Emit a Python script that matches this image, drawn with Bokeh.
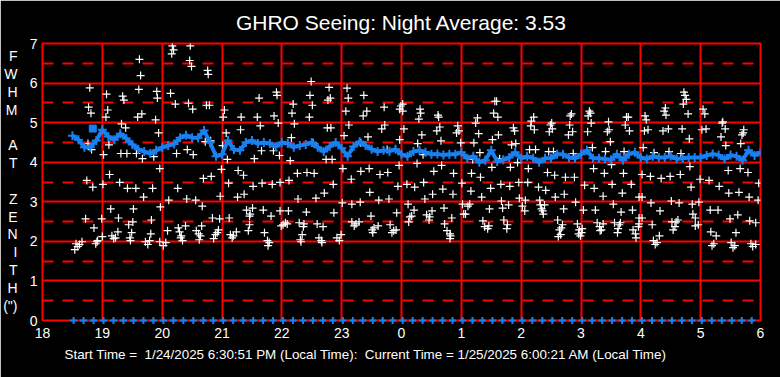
import numpy as np
from bokeh.plotting import figure
from bokeh.models import FixedTicker, Grid, Title, LinearAxis
from bokeh.embed import file_html
from bokeh.resources import INLINE

# ---------------- data ----------------
title_text = "GHRO Seeing: Night Average: 3.53"
footer_text = "Start Time =\u00a0 1/24/2025 6:30:51 PM (Local Time):\u00a0 Current Time = 1/25/2025 6:00:21 AM (Local Time)"
ylabel_letters = ["F", "W", "H", "M", "", "A", "T", "", "Z", "E", "N", "I", "T", "H", "(\")"]

hour_ticks = [18, 19, 20, 21, 22, 23, 24, 25, 26, 27, 28, 29, 30]
hour_labels = ["18", "19", "20", "21", "22", "23", "0", "1", "2", "3", "4", "5", "6"]
fwhm_ticks = [0, 1, 2, 3, 4, 5, 6, 7]
fwhm_half_ticks = [0.5, 1.5, 2.5, 3.5, 4.5, 5.5, 6.5]

# individual measurements (hours since midnight of 1/24, FWHM arcsec)
white_hour = [
    19.62, 19.64, 18.79, 19.61, 19.07, 19.34, 19.36, 19.91, 19.92, 18.77, 18.81, 19.09, 19.06, 19.66, 19.59,
    19.89, 19.32, 19.39, 19.94, 18.76, 18.82, 19.11, 19.02, 19.31, 19.41, 19.57, 19.67, 19.86, 19.96, 19.12,
    18.74, 18.84, 19.01, 19.29, 19.42, 19.56, 19.84, 19.69, 19.14, 19.52, 19.97, 18.72, 18.99, 19.27, 19.51,
    19.44, 19.82, 18.86, 19.81, 19.26, 19.49, 19.00, 18.92, 19.16, 19.19, 19.22, 19.46, 19.47, 19.72, 19.76,
    19.79, 19.96, 18.56, 18.62, 18.66, 18.59, 18.54, 18.89, 18.91,
    20.17, 20.19, 20.16, 20.47, 20.46, 20.49, 20.76, 20.77, 20.14, 20.22, 20.44, 20.51, 20.74, 20.79, 21.04,
    21.02, 21.32, 21.59, 21.62, 21.91, 21.92, 21.87, 21.94, 21.64, 21.31, 21.07, 20.72, 20.81, 21.01, 20.42,
    20.24, 20.52, 21.09, 21.54, 21.66, 21.86, 21.96, 20.99, 20.69, 20.82, 21.27, 21.36, 21.11, 21.52, 21.67,
    21.84, 21.97, 20.26, 20.97, 21.26, 21.37, 20.11, 20.41, 20.56, 20.67, 20.84, 20.96, 21.12, 21.41, 21.51,
    21.47, 21.46, 21.69, 21.82, 21.97, 20.09, 20.27, 20.29, 20.32, 20.34, 20.31, 20.39, 20.66, 20.57, 20.61,
    20.64, 20.62, 20.86, 20.89, 20.92, 20.94, 21.14, 21.17, 21.19, 21.24, 21.46, 21.44, 21.71, 21.76, 21.79,
    21.77, 21.99, 20.06, 20.02,
    22.49, 22.79, 23.09, 22.47, 22.81, 22.77, 23.11, 23.37, 22.19, 22.51, 23.71, 23.99, 23.97, 22.17, 22.46,
    23.07, 23.42, 23.36, 22.21, 22.76, 22.82, 23.12, 23.67, 23.72, 23.04, 23.44, 23.97, 22.16, 22.52, 23.32,
    23.76, 22.14, 22.74, 22.84, 23.02, 23.32, 23.46, 23.64, 23.77, 23.96, 22.26, 22.42, 22.54, 22.12, 22.86,
    23.16, 23.94, 22.71, 22.27, 22.57, 23.01, 23.17, 23.31, 23.47, 23.62, 23.79, 22.11, 22.41, 22.87, 23.49,
    23.92, 22.29, 22.37, 22.36, 22.34, 22.31, 22.32, 22.59, 22.69, 22.06, 22.02, 22.09, 22.62, 22.66, 22.67,
    22.92, 22.96, 22.99, 23.17, 23.24, 23.29, 23.21, 23.51, 23.54, 23.61, 23.52, 23.81, 23.84, 23.87, 23.91,
    24.02, 24.02, 24.31, 24.32, 24.29, 24.61, 24.62, 25.56, 25.59, 25.54, 25.61, 25.27, 25.24, 24.04, 24.34,
    24.64, 24.59, 24.94, 24.96, 24.92, 25.29, 25.62, 25.87, 25.89, 24.27, 24.66, 24.99, 25.21, 25.52, 25.84,
    25.91, 24.36, 25.31, 25.19, 25.64, 24.26, 24.67, 25.51, 25.82, 25.94, 24.54, 24.87, 25.17, 25.32, 24.09,
    24.22, 24.37, 24.69, 25.01, 25.16, 25.49, 25.66, 25.81, 25.96, 24.52, 24.86, 24.39, 25.34, 25.67, 25.97,
    24.11, 24.21, 24.71, 25.02, 25.11, 25.14, 25.47, 25.69, 25.79, 24.51, 24.84, 25.04, 25.07, 24.14, 24.17,
    24.12, 24.42, 24.47, 24.46, 24.72, 24.76, 24.81, 24.82, 24.81, 25.36, 25.39, 25.44, 25.46, 25.71, 25.77,
    25.76,
    26.21, 26.17, 26.16, 26.84, 26.82, 27.14, 27.16, 27.12, 27.76, 27.79, 27.46, 27.74, 27.17, 26.51, 26.49,
    26.81, 26.22, 26.47, 26.52, 26.86, 26.79, 27.11, 27.47, 27.44, 27.81, 27.49, 26.14, 26.24, 26.46, 26.54,
    26.87, 27.19, 27.41, 27.72, 27.51, 26.12, 27.21, 26.44, 26.56, 26.74, 26.89, 27.39, 27.71, 26.11, 27.06,
    27.52, 27.84, 26.29, 26.41, 27.22, 26.72, 26.57, 27.37, 27.69, 26.07, 26.31, 26.91, 27.54, 27.97, 26.32,
    26.39, 26.34, 26.36, 26.37, 26.02, 26.06, 26.71, 27.04, 27.24, 27.67, 27.86, 27.97, 26.61, 26.69, 26.67,
    26.64, 26.66, 26.62, 26.94, 26.97, 26.96, 26.99, 27.01, 27.02, 27.27, 27.31, 27.32, 27.34, 27.37, 27.56,
    27.64, 27.62, 27.61, 27.66, 27.87, 27.91, 27.92, 27.96, 27.97,
    28.72, 28.74, 28.76, 28.71, 28.41, 28.39, 28.42, 28.07, 28.09, 29.04, 29.07, 28.79, 29.37, 29.36, 29.72,
    29.71, 29.69, 28.06, 28.12, 28.37, 28.46, 28.69, 29.02, 29.09, 29.41, 29.34, 28.81, 29.67, 29.42, 28.04,
    28.22, 28.47, 28.67, 28.82, 29.46, 29.66, 29.79, 28.02, 28.16, 28.34, 28.49, 28.66, 28.99, 29.14, 28.84,
    29.31, 29.97, 29.47, 29.64, 29.81, 28.02, 29.96, 28.17, 28.51, 28.64, 28.86, 28.97, 29.16, 29.29, 28.32,
    28.87, 28.91, 29.62, 29.49, 29.82, 29.92, 28.02, 28.19, 28.52, 28.59, 28.62, 28.57, 28.54, 28.91, 28.96,
    29.17, 29.26, 29.59, 28.31, 28.21, 28.24, 28.27, 29.19, 29.22, 29.51, 29.54, 29.57, 29.84, 29.87, 29.92,
]
white_fwhm = [
    6.60, 6.19, 5.88, 5.84, 5.72, 5.67, 5.57, 5.79, 5.62, 5.39, 5.24, 5.32, 5.14, 5.22, 5.14,
    5.07, 4.97, 4.87, 4.74, 4.47, 4.32, 4.44, 4.19, 4.22, 4.22, 4.22, 4.09, 4.14, 3.84, 3.69,
    3.54, 3.37, 3.44, 3.49, 3.34, 3.34, 3.34, 3.12, 2.82, 2.82, 2.87, 2.57, 2.57, 2.59, 2.49,
    2.42, 2.54, 2.34, 2.19, 2.24, 2.22, 2.12, 2.02, 2.14, 2.07, 2.09, 2.09, 2.02, 1.99, 1.92,
    2.02, 1.99, 1.94, 1.92, 1.99, 1.87, 1.79, 1.94, 1.99,
    6.94, 6.84, 6.74, 6.94, 6.57, 6.42, 6.32, 6.22, 5.74, 5.47, 5.49, 5.34, 5.44, 5.44, 5.32,
    5.14, 5.14, 5.14, 5.62, 5.77, 5.69, 5.17, 4.99, 4.92, 4.82, 4.74, 4.52, 4.54, 4.42, 4.32,
    4.22, 4.19, 4.07, 4.09, 4.29, 4.29, 4.17, 3.82, 3.59, 3.64, 3.79, 3.67, 3.47, 3.39, 3.47,
    3.44, 3.49, 3.34, 3.14, 3.12, 3.19, 3.04, 3.07, 3.04, 2.89, 2.59, 2.57, 2.59, 2.79, 2.84,
    2.69, 2.64, 2.79, 2.64, 2.77, 2.27, 2.34, 2.24, 2.14, 2.02, 2.09, 2.39, 2.39, 2.27, 2.19,
    2.14, 2.04, 2.07, 2.17, 2.22, 2.29, 2.17, 2.09, 2.14, 2.24, 2.42, 2.27, 2.22, 2.02, 1.97,
    1.89, 2.39, 1.97, 1.89,
    6.04, 5.89, 5.87, 5.69, 5.62, 5.57, 5.62, 5.69, 5.47, 5.44, 5.39, 5.42, 5.34, 5.24, 5.14,
    5.29, 5.29, 5.17, 4.97, 4.87, 4.87, 4.94, 4.84, 4.94, 4.67, 4.64, 4.57, 4.62, 4.49, 4.49,
    4.32, 4.04, 4.07, 4.07, 3.84, 3.77, 3.84, 3.69, 3.74, 3.92, 3.72, 3.74, 3.72, 3.54, 3.44,
    3.57, 3.39, 3.22, 3.07, 3.09, 2.97, 2.94, 2.99, 3.24, 3.04, 3.07, 2.77, 2.74, 2.72, 2.64,
    2.72, 2.47, 2.44, 2.37, 2.17, 2.04, 1.99, 2.44, 2.37, 2.47, 2.42, 2.44, 2.09, 2.02, 1.97,
    2.09, 2.02, 2.17, 2.49, 2.44, 2.49, 2.39, 2.29, 2.34, 2.39, 2.22, 2.42, 2.22, 2.27, 2.29,
    5.47, 5.29, 5.34, 5.24, 5.09, 5.19, 5.14, 5.54, 5.54, 5.24, 5.14, 5.12, 4.99, 4.84, 4.69,
    4.89, 4.79, 4.92, 4.79, 4.74, 4.72, 4.69, 4.87, 4.79, 4.47, 4.54, 4.49, 4.49, 4.57, 4.44,
    4.47, 4.19, 4.24, 4.07, 4.09, 3.97, 3.92, 3.87, 3.87, 3.99, 3.77, 3.72, 3.72, 3.62, 3.44,
    3.37, 3.49, 3.32, 3.47, 3.27, 3.34, 3.44, 3.39, 3.49, 3.19, 3.19, 3.07, 3.12, 3.02, 3.09,
    2.94, 2.79, 2.84, 2.94, 2.89, 2.94, 2.82, 2.84, 2.92, 2.77, 2.59, 2.69, 2.69, 2.62, 2.64,
    2.49, 2.67, 2.62, 2.54, 2.44, 2.27, 2.19, 2.14, 2.07, 2.52, 2.37, 2.32, 2.39, 2.54, 2.42,
    2.32,
    5.14, 5.04, 4.92, 5.22, 5.17, 5.29, 5.24, 5.17, 5.14, 5.14, 5.02, 4.94, 4.99, 4.99, 4.94,
    4.94, 4.82, 4.77, 4.84, 4.77, 4.69, 4.77, 4.82, 4.77, 4.79, 4.52, 4.32, 4.32, 4.27, 4.27,
    4.22, 4.37, 4.27, 4.27, 3.94, 3.84, 3.84, 3.74, 3.67, 3.62, 3.62, 3.72, 3.72, 3.49, 3.42,
    3.44, 3.44, 3.37, 3.29, 3.34, 3.19, 3.12, 3.14, 3.22, 3.04, 3.04, 2.99, 2.94, 3.12, 2.92,
    2.92, 2.82, 2.77, 2.69, 2.89, 2.77, 2.82, 2.79, 2.79, 2.74, 2.79, 2.59, 2.54, 2.42, 2.34,
    2.29, 2.17, 2.12, 2.44, 2.29, 2.19, 2.14, 2.22, 2.32, 2.47, 2.37, 2.27, 2.29, 2.44, 2.47,
    2.42, 2.32, 2.22, 2.47, 2.29, 2.19, 2.09, 2.37, 2.44,
    5.77, 5.69, 5.59, 5.47, 5.37, 5.29, 5.19, 5.17, 5.07, 5.34, 5.22, 5.22, 5.02, 4.99, 4.82,
    4.74, 4.69, 4.79, 4.82, 4.79, 4.84, 4.84, 4.82, 4.84, 4.84, 4.64, 4.59, 4.47, 4.42, 4.37,
    4.24, 4.27, 4.22, 3.89, 3.79, 3.84, 3.74, 3.69, 3.64, 3.59, 3.64, 3.69, 3.57, 3.54, 3.37,
    3.39, 3.47, 3.22, 3.24, 3.12, 3.12, 3.04, 2.97, 3.02, 2.97, 2.94, 2.99, 2.79, 2.79, 2.77,
    2.69, 2.59, 2.67, 2.57, 2.52, 2.47, 2.59, 2.42, 2.49, 2.49, 2.54, 2.37, 2.29, 2.39, 2.42,
    2.24, 2.14, 2.22, 2.14, 2.02, 1.92, 1.97, 1.89, 1.94, 1.97, 1.84, 1.89, 1.94, 1.87, 1.92,
]

# running average trace, one value every 0.1 h from 18.5 to 30.0
trend_start = 18.5
trend_step = 0.1
trend_fwhm = [
    4.67, 4.57, 4.38, 4.38, 4.55, 4.82, 4.65, 4.57, 4.72, 4.60, 4.45, 4.33, 4.27, 4.22, 4.30,
    4.37, 4.42, 4.46, 4.62, 4.68, 4.62, 4.62, 4.80, 4.50, 4.15, 4.20, 4.55, 4.32, 4.30, 4.50,
    4.55, 4.47, 4.50, 4.47, 4.40,
    4.50, 4.47, 4.38, 4.42, 4.45, 4.50, 4.38, 4.27, 4.40, 4.50, 4.35, 4.15, 4.40, 4.52, 4.42,
    4.33, 4.27, 4.30, 4.28, 4.33,
    4.20, 4.15, 4.27, 4.30, 4.25, 4.20, 4.21, 4.18, 4.20, 4.20, 4.25, 4.10, 4.15, 4.00, 4.05,
    4.30, 4.02, 4.06, 4.12, 4.25,
    4.10, 4.15, 4.10, 4.00, 4.10, 4.10, 4.20, 4.20, 4.12, 4.10, 4.20, 4.30, 4.10, 4.10, 4.08,
    4.06, 4.20, 4.05, 4.20, 4.25,
    4.12, 4.08, 4.15, 4.12, 4.12, 4.16, 4.08, 4.10, 4.12, 4.12, 4.12, 4.17, 4.21, 4.18, 4.08,
    4.18, 4.15, 4.05, 4.30, 4.17, 4.25,
]
trend_outlier_hour = [18.84]
trend_outlier_fwhm = [4.85]

# sampling markers along the bottom (every 10 minutes from 6:31 PM)
sample_start = 18.52
sample_step = 1.0 / 6.0
sample_end = 30.0

# ---------------- styling ----------------
FONT = "Liberation Sans"
RED = "#ff0000"
BLUE = "#1a80f0"

p = figure(width=780, height=377, x_range=(18, 30), y_range=(0, 7),
           output_backend="svg", toolbar_location=None,
           background_fill_color="black", border_fill_color="black",
           min_border_left=40, min_border_right=20, min_border_top=43, min_border_bottom=57)
p.outline_line_color = RED
p.outline_line_width = 2

p.title.text = title_text
p.title.text_color = "white"
p.title.text_font = FONT
p.title.text_font_size = "21px"
p.title.text_font_style = "normal"
p.title.align = "center"
p.title.vertical_align = "top"
p.title.standoff = 16
p.title.offset = -8

foot = Title(text=footer_text, text_color="white", text_font=FONT, text_font_size="13.4px",
             text_font_style="normal", align="left", offset=22, standoff=9)
p.add_layout(foot, "below")

for ax in (p.xaxis[0], p.yaxis[0]):
    ax.axis_line_color = None
    ax.major_tick_line_color = None
    ax.minor_tick_line_color = None
    ax.major_label_text_color = "white"
    ax.major_label_text_font = FONT
    ax.major_label_text_font_size = "14px"
p.xaxis[0].ticker = FixedTicker(ticks=hour_ticks)
p.xaxis[0].major_label_overrides = {t: l for t, l in zip(hour_ticks, hour_labels)}
p.xaxis[0].major_label_standoff = 1
p.yaxis[0].ticker = FixedTicker(ticks=fwhm_ticks)
p.yaxis[0].major_label_standoff = 5
p.yaxis[0].major_tick_out = 0
p.yaxis[0].major_tick_in = 0

# vertical axis title: one letter per row, drawn as an extra left axis
letter_pos = [6.675 - i * 0.45 for i in range(len(ylabel_letters))]
letter_axis = LinearAxis(ticker=FixedTicker(ticks=letter_pos),
                         axis_line_color=None, major_tick_line_color=None, minor_tick_line_color=None,
                         major_tick_out=0, major_tick_in=0,
                         major_label_text_color="white", major_label_text_font=FONT,
                         major_label_text_font_size="14px", major_label_standoff=9)
letter_axis.major_label_overrides = {pos: (ch if ch else " ") for pos, ch in zip(letter_pos, ylabel_letters)}
p.add_layout(letter_axis, "left")

p.xgrid[0].ticker = FixedTicker(ticks=hour_ticks)
p.ygrid[0].ticker = FixedTicker(ticks=fwhm_ticks)
for g in (p.xgrid[0], p.ygrid[0]):
    g.grid_line_color = RED
    g.grid_line_width = 2
half_grid = Grid(dimension=1, ticker=FixedTicker(ticks=fwhm_half_ticks),
                 grid_line_color=RED, grid_line_width=2, grid_line_dash="11 9")
p.add_layout(half_grid)

# individual measurements
p.scatter(white_hour, white_fwhm, marker="cross", size=8, line_color="white", line_width=1.2)

# running average
trend_hour = [trend_start + i * trend_step for i in range(len(trend_fwhm))]
p.line(trend_hour, trend_fwhm, line_color=BLUE, line_width=4)
p.scatter(trend_hour, trend_fwhm, marker="cross", size=9, line_color=BLUE, line_width=2)
p.scatter(trend_outlier_hour, trend_outlier_fwhm, marker="square", size=7, fill_color=BLUE, line_color=BLUE)

# bottom sampling markers
sample_hour = list(np.arange(sample_start, sample_end, sample_step))
p.scatter(sample_hour, [0] * len(sample_hour), marker="cross", size=7, line_color=BLUE, line_width=2,
          level="overlay")

open("out.html", "w").write(file_html(p, INLINE))
